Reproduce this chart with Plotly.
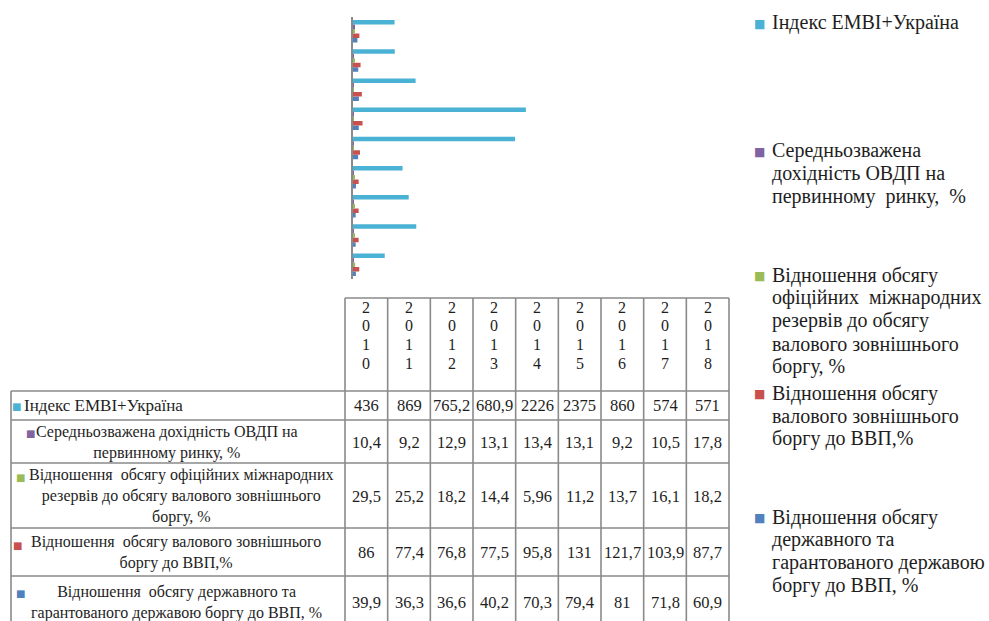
import plotly.graph_objects as go

# ---- data ----
years = ["2010", "2011", "2012", "2013", "2014", "2015", "2016", "2017", "2018"]

series_names = [
    "Індекс EMBI+Україна",
    "Середньозважена дохідність ОВДП на первинному ринку, %",
    "Відношення обсягу офіційних міжнародних резервів до обсягу валового зовнішнього боргу, %",
    "Відношення обсягу валового зовнішнього боргу до ВВП,%",
    "Відношення обсягу державного та гарантованого державою боргу до ВВП, %",
]
embi = [436, 869, 765.2, 680.9, 2226, 2375, 860, 574, 571]
ovdp_yield = [10.4, 9.2, 12.9, 13.1, 13.4, 13.1, 9.2, 10.5, 17.8]
reserves_to_debt = [29.5, 25.2, 18.2, 14.4, 5.96, 11.2, 13.7, 16.1, 18.2]
ext_debt_to_gdp = [86, 77.4, 76.8, 77.5, 95.8, 131, 121.7, 103.9, 87.7]
public_debt_to_gdp = [39.9, 36.3, 36.6, 40.2, 70.3, 79.4, 81, 71.8, 60.9]

values = [embi, ovdp_yield, reserves_to_debt, ext_debt_to_gdp, public_debt_to_gdp]
colors = ["#4AB2D4", "#8064A2", "#9BBB59", "#C9504D", "#4F81BD"]

# label text as laid out in the legend column and in the table
legend_lines = [
    ["Індекс EMBI+Україна"],
    ["Середньозважена", "дохідність ОВДП на", "первинному  ринку,  %"],
    ["Відношення обсягу", "офіційних  міжнародних", "резервів до обсягу",
     "валового зовнішнього", "боргу, %"],
    ["Відношення обсягу", "валового зовнішнього", "боргу до ВВП,%"],
    ["Відношення обсягу", "державного та", "гарантованого державою", "боргу до ВВП, %"],
]
table_lines = [
    ["Індекс EMBI+Україна"],
    ["Середньозважена дохідність ОВДП на", "первинному ринку, %"],
    ["Відношення  обсягу офіційних міжнародних", "резервів до обсягу валового зовнішнього",
     "боргу, %"],
    ["Відношення  обсягу валового зовнішнього", "боргу до ВВП,%"],
    ["Відношення  обсягу державного та", "гарантованого державою боргу до ВВП, %"],
]

W, H = 989, 621
SERIF = "Liberation Serif"
TXT = "#1e1e1e"
GRID = "#8a8a8a"


def px(x):
    return x / W


def py(y):
    return 1 - y / H


def fmt(v):
    return ("%g" % v).replace(".", ",")


def note(x, y, text, size, family=SERIF, color=TXT, xanchor="center", align="center"):
    return dict(xref="paper", yref="paper", x=px(x), y=py(y), text=text,
                showarrow=False, xanchor=xanchor, yanchor="middle", align=align,
                font=dict(family=family, size=size, color=color))


fig = go.Figure()

# horizontal bars: added in reverse so the first series sits on top of each group
for name, vals, col in reversed(list(zip(series_names, values, colors))):
    fig.add_trace(go.Bar(
        y=years, x=vals, orientation="h", name=name,
        marker=dict(color=col, line=dict(width=0)),
        showlegend=False,
    ))

shapes = []
annotations = []

# ---- data table grid ----
col_left = 345
col_w = 384 / 9
col_edges = [col_left + i * col_w for i in range(10)]
head_top = 298
row_edges = [391, 420, 463, 528, 576, 630]
table_left = 11


def line(x0, y0, x1, y1):
    shapes.append(dict(type="line", xref="paper", yref="paper",
                       x0=px(x0), y0=py(y0), x1=px(x1), y1=py(y1),
                       line=dict(color=GRID, width=1.6)))


line(col_edges[0], head_top, col_edges[-1], head_top)
for x in col_edges:
    line(x, head_top, x, row_edges[-1])
line(table_left, row_edges[0], table_left, row_edges[-1])
for y in row_edges[:-1]:
    line(table_left, y, col_edges[-1], y)

# header: year digits stacked vertically
digit_y = [307, 325.7, 344.4, 363]
for i, yr in enumerate(years):
    cx = (col_edges[i] + col_edges[i + 1]) / 2
    for ch, yy in zip(yr, digit_y):
        annotations.append(note(cx, yy, ch, 16))

# table body values
row_mid = [405.5, 442, 496, 552, 602]
for r, vals in enumerate(values):
    for i, v in enumerate(vals):
        cx = (col_edges[i] + col_edges[i + 1]) / 2
        annotations.append(note(cx, row_mid[r], fmt(v), 16.5))

# table row labels with colour keys
label_cx = [22, 167, 181, 176, 176]
key_pos = [(16, 406), (31, 433), (20, 477), (17, 545), (20, 593)]
for r, lines in enumerate(table_lines):
    first = r == 0
    annotations.append(note(label_cx[r], row_mid[r], "<br>".join(lines),
                            17 if first else 16,
                            xanchor="left" if first else "center",
                            align="left" if first else "center"))
    kx, ky = key_pos[r]
    annotations.append(note(kx, ky, "■", 10, family="DejaVu Sans", color=colors[r]))

# ---- legend column on the right (one annotation per line) ----
leg_first_y = [23, 151, 275, 393, 517]
leg_step = 22.9
for r, lines in enumerate(legend_lines):
    for k, txt in enumerate(lines):
        annotations.append(note(770, leg_first_y[r] + k * leg_step, txt, 20,
                                xanchor="left", align="left"))
    annotations.append(note(759, leg_first_y[r] + 1, "■", 12, family="DejaVu Sans",
                            color=colors[r]))

fig.update_layout(
    width=W, height=H,
    margin=dict(l=0, r=0, t=0, b=0),
    paper_bgcolor="white", plot_bgcolor="white",
    barmode="group", bargap=0.23, bargroupgap=0,
    xaxis=dict(domain=[px(353), px(535)], range=[0, 2500], visible=False),
    yaxis=dict(domain=[py(279.3), py(16.7)], type="category",
               showticklabels=False, ticks="", showgrid=False, zeroline=False,
               showline=True, linecolor=GRID, linewidth=1.6),
    shapes=shapes,
    annotations=annotations,
    showlegend=False,
)

fig.write_html("out.html")
